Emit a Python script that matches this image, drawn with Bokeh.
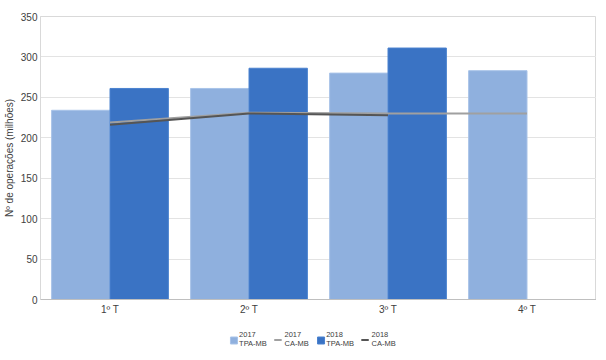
from bokeh.plotting import figure
from bokeh.layouts import column
from bokeh.models import ColumnDataSource, FixedTicker
from bokeh.core.properties import value
from bokeh.transform import dodge
from bokeh.embed import file_html
from bokeh.resources import INLINE

quarters = ["1º T", "2º T", "3º T", "4º T"]
tpa_2017 = [234, 261, 280, 283]
ca_2017 = [219, 231, 230, 230]
quarters_2018 = ["1º T", "2º T", "3º T"]
tpa_2018 = [261, 286, 311]
ca_2018 = [216, 230, 228]
legend_years = ["2017", "2017", "2018", "2018"]
legend_names = ["TPA-MB", "CA-MB", "TPA-MB", "CA-MB"]

C17_BAR, C17_EDGE, C17_LINE = "#8FB0DE", "#A8C3E8", "#A0A0A0"
C18_BAR, C18_EDGE, C18_LINE = "#3A73C4", "#4A82CF", "#555555"

src17 = ColumnDataSource(dict(q=quarters, tpa=tpa_2017, ca=ca_2017))
src18 = ColumnDataSource(dict(q=quarters_2018, tpa=tpa_2018, ca=ca_2018))

FONT = "Liberation Sans"
TXT = "#404040"
p = figure(x_range=quarters, y_range=(0, 350), frame_width=556, frame_height=283,
           output_backend="svg", toolbar_location=None,
           min_border_left=37, min_border_top=16, min_border_right=0, min_border_bottom=20)

p.vbar(x=dodge("q", -0.21, range=p.x_range), top="tpa", width=0.42, source=src17,
       fill_color=C17_BAR, line_color=C17_EDGE, line_width=1)
p.vbar(x=dodge("q", 0.21, range=p.x_range), top="tpa", width=0.42, source=src18,
       fill_color=C18_BAR, line_color=C18_EDGE, line_width=1)
p.line(x="q", y="ca", source=src17, line_color=C17_LINE, line_width=2)
p.line(x="q", y="ca", source=src18, line_color=C18_LINE, line_width=2)

p.yaxis.ticker = FixedTicker(ticks=[0, 50, 100, 150, 200, 250, 300, 350])
p.yaxis.axis_label = "Nº de operações (milhões)"
p.yaxis.axis_label_text_font = FONT
p.yaxis.axis_label_text_font_style = "normal"
p.yaxis.axis_label_text_font_size = "10px"
p.yaxis.axis_label_text_color = TXT
p.yaxis.axis_label_standoff = 3
for ax in (p.xaxis, p.yaxis):
    ax.major_label_text_font = FONT
    ax.major_label_text_font_size = "10px"
    ax.major_label_text_color = TXT
    ax.major_tick_line_color = None
    ax.minor_tick_line_color = None
    ax.major_tick_out = 0
    ax.major_tick_in = 0
    ax.minor_tick_out = 0
p.yaxis.axis_line_color = "#D9D9D9"
p.xaxis.axis_line_color = "#BFBFBF"
p.yaxis.major_label_standoff = 3
p.xaxis.major_label_standoff = 4
p.xgrid.grid_line_color = None
p.ygrid.grid_line_color = "#E3E3E3"
p.outline_line_color = "#D9D9D9"
p.x_range.range_padding = 0
p.x_range.factor_padding = 0

# ---- legend strip (pixel coordinates, y measured from the strip's top) ----
LG_W, LG_H = 591, 34
lg = figure(width=LG_W, height=LG_H, x_range=(0, LG_W), y_range=(LG_H, 0),
            output_backend="svg", toolbar_location=None,
            x_axis_type=None, y_axis_type=None,
            min_border_left=0, min_border_right=0, min_border_top=0, min_border_bottom=0)
lg.outline_line_color = None
lg.xgrid.grid_line_color = None
lg.ygrid.grid_line_color = None

x0, step = 204, 46.7
item_x = [x0 + i * step for i in range(len(legend_names))]
is_line = [n.startswith("CA") for n in legend_names]
sw_colors = [C17_BAR, C17_LINE, C18_BAR, C18_LINE]
sw_edges = [C17_EDGE, C17_LINE, C18_EDGE, C18_LINE]

sq = [i for i in range(4) if not is_line[i]]
ln = [i for i in range(4) if is_line[i]]
lg.rect(x=[item_x[i] + 3.5 for i in sq], y=[21] * len(sq), width=7, height=7,
        width_units="screen", height_units="screen",
        fill_color=[sw_colors[i] for i in sq], line_color=[sw_edges[i] for i in sq])
lg.segment(x0=[item_x[i] for i in ln], x1=[item_x[i] + 8 for i in ln],
           y0=[20.5] * len(ln), y1=[20.5] * len(ln),
           line_color=[sw_colors[i] for i in ln], line_width=2)
tx = [item_x[i] + (11 if is_line[i] else 9) for i in range(4)]
lg.text(x=tx, y=[15] * 4, text=legend_years, text_font=value(FONT), text_font_size="7.5px",
        text_color=TXT, text_align="left", text_baseline="middle")
lg.text(x=tx, y=[24] * 4, text=legend_names, text_font=value(FONT), text_font_size="7.5px",
        text_color=TXT, text_align="left", text_baseline="middle")

layout = column(p, lg, spacing=0)
open("out.html", "w").write(file_html(layout, INLINE))
